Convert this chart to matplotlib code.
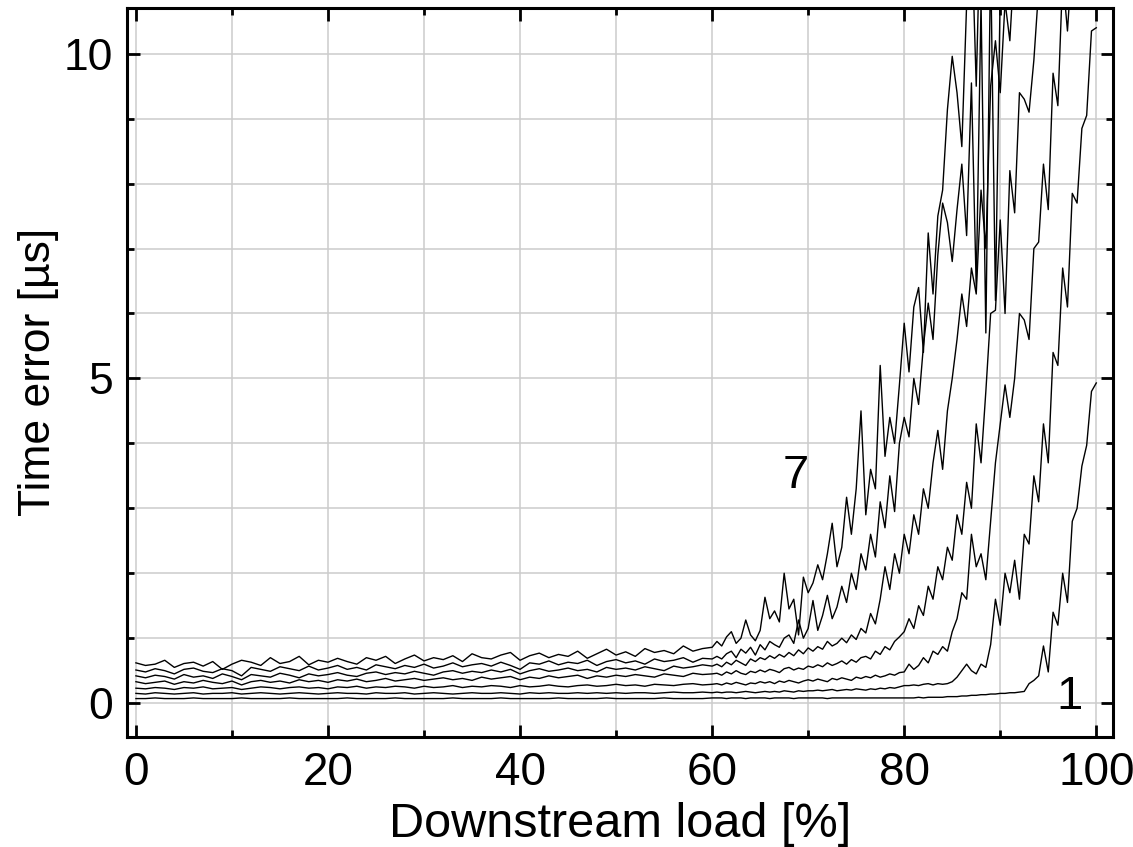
import numpy as np
import matplotlib
matplotlib.use("Agg")
import matplotlib.pyplot as plt
from matplotlib.ticker import MultipleLocator

plt.rcParams['font.family'] = ['Liberation Sans', 'DejaVu Sans']

# load grid: 1 % steps up to 60, then 0.5 % steps
load = np.concatenate([np.arange(0, 61, 1.0), np.arange(60.5, 100.01, 0.5)])

# time error [us] per curve, x = 0..60
low1 = [0.07,0.07,0.08,0.07,0.07,0.07,0.08,0.07,0.07,0.07, 0.07,0.08,0.07,0.07,0.07,0.07,0.08,0.07,0.07,0.07,
        0.07,0.07,0.08,0.07,0.07,0.07,0.07,0.08,0.07,0.07, 0.07,0.07,0.07,0.08,0.07,0.07,0.07,0.07,0.08,0.07,
        0.07,0.07,0.07,0.07,0.08,0.07,0.07,0.07,0.07,0.08, 0.07,0.07,0.07,0.07,0.07,0.08,0.07,0.07,0.07,0.07, 0.08]
low2 = [0.15,0.14,0.16,0.15,0.14,0.15,0.16,0.14,0.15,0.15, 0.16,0.14,0.15,0.16,0.15,0.14,0.15,0.16,0.15,0.14,
        0.15,0.16,0.15,0.15,0.14,0.16,0.15,0.15,0.16,0.14, 0.15,0.16,0.15,0.14,0.15,0.16,0.15,0.15,0.16,0.15,
        0.14,0.16,0.15,0.16,0.15,0.15,0.16,0.15,0.16,0.15, 0.16,0.15,0.16,0.16,0.15,0.16,0.17,0.16,0.16,0.17, 0.16]
low3 = [0.23,0.22,0.24,0.23,0.21,0.24,0.23,0.25,0.22,0.23, 0.24,0.21,0.23,0.25,0.24,0.22,0.24,0.25,0.23,0.24,
        0.22,0.25,0.24,0.26,0.23,0.25,0.24,0.26,0.25,0.23, 0.26,0.24,0.25,0.27,0.24,0.26,0.25,0.27,0.26,0.24,
        0.27,0.25,0.26,0.28,0.26,0.25,0.27,0.28,0.26,0.27, 0.29,0.27,0.28,0.26,0.29,0.28,0.27,0.29,0.30,0.28, 0.29]
low4 = [0.33,0.30,0.32,0.34,0.29,0.33,0.31,0.35,0.32,0.30, 0.34,0.28,0.33,0.35,0.32,0.34,0.31,0.36,0.33,0.35,
        0.32,0.36,0.34,0.37,0.33,0.35,0.38,0.34,0.36,0.38, 0.35,0.37,0.39,0.36,0.38,0.35,0.40,0.37,0.39,0.41,
        0.36,0.40,0.38,0.42,0.39,0.41,0.43,0.38,0.42,0.40, 0.43,0.41,0.44,0.42,0.40,0.45,0.43,0.41,0.46,0.44, 0.45]
low5 = [0.42,0.39,0.43,0.41,0.37,0.44,0.40,0.42,0.38,0.45, 0.41,0.36,0.44,0.42,0.40,0.46,0.43,0.39,0.45,0.42,
        0.44,0.47,0.43,0.41,0.46,0.48,0.44,0.47,0.45,0.49, 0.46,0.43,0.48,0.50,0.46,0.49,0.47,0.51,0.48,0.52,
        0.45,0.50,0.53,0.49,0.51,0.54,0.50,0.52,0.48,0.55, 0.52,0.54,0.51,0.56,0.53,0.50,0.57,0.54,0.56,0.59, 0.57]
low6 = [0.51,0.48,0.53,0.50,0.45,0.52,0.54,0.49,0.47,0.53, 0.50,0.42,0.55,0.52,0.49,0.56,0.53,0.50,0.57,0.51,
        0.54,0.58,0.52,0.55,0.51,0.59,0.56,0.53,0.58,0.55, 0.60,0.54,0.57,0.62,0.56,0.59,0.61,0.57,0.63,0.58,
        0.52,0.62,0.60,0.65,0.59,0.63,0.61,0.66,0.58,0.64, 0.67,0.62,0.65,0.60,0.68,0.64,0.66,0.70,0.63,0.69, 0.68]
low7 = [0.62,0.58,0.60,0.66,0.55,0.61,0.63,0.57,0.64,0.52, 0.60,0.66,0.63,0.58,0.70,0.61,0.64,0.72,0.59,0.66,
        0.63,0.69,0.64,0.60,0.70,0.66,0.72,0.61,0.68,0.74, 0.65,0.70,0.67,0.73,0.64,0.76,0.70,0.68,0.74,0.78,
        0.66,0.73,0.77,0.70,0.75,0.72,0.80,0.69,0.76,0.83, 0.74,0.79,0.72,0.84,0.78,0.81,0.76,0.88,0.80,0.84, 0.86]

# x = 60.5..100 in 0.5 steps
high1 = [0.08,0.08,0.07,0.08,0.08,0.08,0.07,0.08,0.08,0.08, 0.08,0.07,0.08,0.08,0.08,0.08,0.07,0.08,0.08,0.08,
         0.08,0.08,0.08,0.07,0.08,0.08,0.08,0.08,0.08,0.08, 0.08,0.08,0.08,0.08,0.08,0.08,0.08,0.08,0.08,0.08,
         0.08,0.08,0.09,0.08,0.09,0.09,0.09,0.09,0.10,0.10, 0.10,0.11,0.11,0.12,0.12,0.13,0.13,0.14,0.14,0.15,
         0.15,0.16,0.16,0.17,0.18,0.30,0.35,0.42,0.88,0.48, 1.40,1.20,2.00,1.55,2.80,3.00,3.65,3.97,4.80,4.93]
high2 = [0.17,0.16,0.17,0.17,0.16,0.17,0.18,0.17,0.16,0.17, 0.18,0.17,0.18,0.17,0.19,0.18,0.17,0.19,0.18,0.19,
         0.19,0.20,0.19,0.20,0.21,0.19,0.20,0.21,0.20,0.22, 0.21,0.20,0.22,0.21,0.23,0.22,0.24,0.23,0.25,0.27,
         0.27,0.28,0.27,0.29,0.30,0.28,0.30,0.29,0.30,0.33, 0.40,0.50,0.60,0.50,0.45,0.60,0.55,0.90,1.60,1.20,
         2.00,1.70,2.20,1.60,2.60,2.45,3.50,3.10,4.30,3.70, 5.40,5.20,6.70,6.10,7.85,7.70,8.85,9.05,10.35,10.40]
high3 = [0.30,0.28,0.31,0.29,0.32,0.30,0.28,0.31,0.30,0.33, 0.31,0.33,0.30,0.34,0.32,0.35,0.33,0.31,0.34,0.36,
         0.34,0.37,0.35,0.33,0.38,0.36,0.39,0.37,0.35,0.40, 0.38,0.41,0.39,0.43,0.40,0.42,0.45,0.43,0.47,0.48,
         0.60,0.52,0.58,0.70,0.62,0.80,0.75,0.87,0.80,1.10, 1.30,1.70,1.60,2.60,2.10,2.30,1.90,2.80,3.70,4.30,
         4.90,4.40,5.00,6.00,5.90,5.60,7.00,7.10,8.30,7.60, 9.70,9.20,11.2,10.35,11.5,12.0,12.5,12.0,13.0,13.5]
high4 = [0.46,0.43,0.48,0.45,0.50,0.46,0.44,0.49,0.47,0.51, 0.48,0.52,0.50,0.47,0.53,0.55,0.51,0.54,0.52,0.57,
         0.55,0.59,0.56,0.62,0.58,0.61,0.65,0.60,0.67,0.63, 0.70,0.72,0.68,0.80,0.75,0.87,0.82,0.95,1.02,1.10,
         1.30,1.15,1.50,1.35,1.80,1.60,2.10,1.90,2.40,2.20, 2.90,2.60,3.40,3.00,4.30,3.70,4.80,6.00,6.05,7.44,
         6.00,8.20,7.55,9.40,9.30,9.10,9.90,11.0,11.8,12.5, 12.0,13.0,12.5,13.0,13.0,13.5,14.0,13.5,14.0,14.5]
high5 = [0.60,0.56,0.63,0.59,0.66,0.62,0.58,0.68,0.64,0.70, 0.67,0.73,0.69,0.75,0.71,0.78,0.73,0.82,0.76,0.85,
         0.80,0.87,0.83,0.95,0.88,0.92,1.00,0.93,1.05,0.98, 1.15,1.08,1.38,1.22,1.60,2.10,1.75,2.30,2.00,2.60,
         2.30,2.90,2.60,3.30,3.00,3.70,4.20,3.60,4.50,5.00, 5.60,6.30,5.80,6.70,6.30,7.90,7.00,9.50,10.2,9.40,
         10.8,10.2,11.5,12.0,11.0,12.5,13.0,12.5,13.0,13.5, 14.0,13.5,14.0,14.5,14.0,15.0,14.5,15.0,15.5,15.0]
high6 = [0.72,0.68,0.76,0.80,0.70,0.83,0.77,0.86,0.74,0.90, 0.82,0.95,0.90,0.86,1.00,1.05,0.92,1.28,1.00,1.15,
         1.58,1.12,1.35,1.66,1.30,1.48,1.80,1.55,2.00,1.75, 2.30,2.05,2.60,2.25,3.10,2.70,3.50,2.95,4.00,4.40,
         4.10,5.00,4.60,5.50,6.16,5.60,6.90,7.70,7.40,6.80, 7.60,8.30,7.20,9.55,6.40,10.8,5.70,11.5,6.20,11.0,
         12.0,11.5,12.5,13.0,12.0,13.5,13.0,14.0,13.5,14.0, 14.5,14.0,15.0,14.5,15.0,15.5,15.0,16.0,15.5,16.0]
high7 = [0.95,0.88,1.02,1.10,0.92,1.00,1.28,1.05,0.96,1.12, 1.63,1.30,1.42,1.25,2.00,1.45,1.60,1.05,1.94,1.70,
         1.85,2.13,1.90,2.30,2.77,2.10,2.40,3.17,2.60,3.30, 4.50,2.90,3.60,3.30,5.20,3.80,4.40,4.00,4.90,5.85,
         5.10,6.10,6.40,5.40,7.24,6.30,7.50,7.90,9.14,9.96, 9.40,8.57,10.8,12.0,9.50,12.5,11.0,13.0,12.5,13.0,
         13.5,13.0,14.0,13.5,14.0,14.5,14.0,15.0,14.5,15.0, 15.5,15.0,16.0,15.5,16.0,16.5,16.0,17.0,16.5,17.0]

curves = [low1 + high1, low2 + high2, low3 + high3, low4 + high4,
          low5 + high5, low6 + high6, low7 + high7]

fig = plt.figure(figsize=(11.33, 8.47), dpi=100)
ax = fig.add_axes([0.112, 0.130, 0.870, 0.861])

for c in curves:
    ax.plot(load, c, color='black', lw=1.0)

ax.set_xlim(-0.94, 101.7)
ax.set_ylim(-0.52, 10.71)
ax.xaxis.set_major_locator(MultipleLocator(20))
ax.xaxis.set_minor_locator(MultipleLocator(10))
ax.yaxis.set_major_locator(MultipleLocator(5))
ax.yaxis.set_minor_locator(MultipleLocator(1))
ax.grid(which='both', color='#cccccc', lw=1.1)
ax.set_axisbelow(True)

ax.tick_params(which='both', direction='in', top=True, right=True,
               width=2.0, pad=10)
ax.tick_params(axis='x', labelsize=33)
ax.tick_params(axis='y', labelsize=32)
ax.tick_params(which='major', length=9)
ax.tick_params(which='minor', length=5)
for s in ax.spines.values():
    s.set_linewidth(2.2)

ax.set_xlabel('Downstream load [%]', fontsize=35, labelpad=5)
ax.set_ylabel('Time error [µs]', fontsize=32, labelpad=3)

ax.text(68.7, 3.5, '7', fontsize=34, ha='center', va='center')
ax.text(97.2, 0.1, '1', fontsize=34, ha='center', va='center')

fig.savefig('out.png', dpi=100)
